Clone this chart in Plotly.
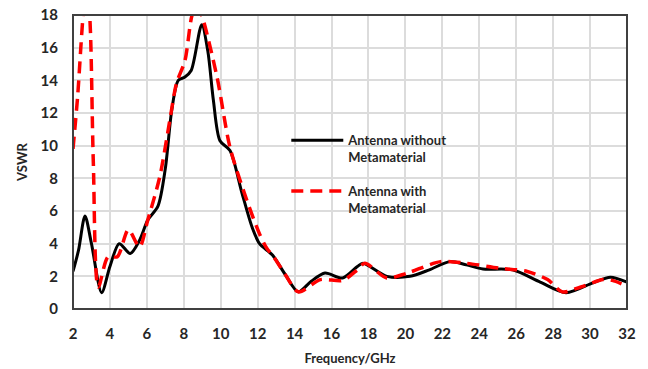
import plotly.graph_objects as go

# Antenna without metamaterial (black solid)
freq_without = [2.0, 2.3, 2.65, 3.0, 3.55, 4.0, 4.5, 5.1, 5.6, 6.05, 6.6, 7.0, 7.35, 7.7, 8.06, 8.4, 8.97, 9.3, 9.6, 9.96, 10.5, 11.15, 11.7, 12.1, 12.8, 13.5, 14.2, 14.9, 15.65, 16.6, 17.4, 17.7, 19.0, 20.25, 21.3, 22.4, 23.3, 24.2, 25.8, 27.3, 28.7, 30.15, 31.1, 32.0]
vswr_without = [2.3, 3.6, 5.7, 4.0, 1.0, 2.6, 4.0, 3.4, 4.2, 5.45, 6.3, 8.6, 12.2, 14.0, 14.2, 14.6, 17.4, 15.8, 12.8, 10.3, 9.7, 7.1, 5.0, 4.0, 3.3, 2.1, 1.05, 1.7, 2.2, 1.9, 2.6, 2.8, 2.0, 2.0, 2.4, 2.9, 2.7, 2.45, 2.4, 1.65, 1.0, 1.6, 1.95, 1.65]

# Antenna with metamaterial (red dashed)
freq_with = [2.0, 2.25, 2.55, 2.72, 2.9, 3.1, 3.37, 3.9, 4.4, 5.0, 5.6, 6.05, 6.7, 7.25, 7.6, 8.06, 8.45, 8.72, 8.97, 9.8, 10.5, 11.4, 12.1, 12.5, 12.8, 13.5, 14.2, 15.4, 16.6, 17.4, 17.8, 19.0, 20.1, 21.9, 23.3, 25.1, 26.6, 27.7, 28.5, 29.5, 30.7, 31.2, 32.0]
vswr_with = [9.8, 13.0, 18.0, 19.5, 18.0, 9.0, 1.35, 3.2, 3.2, 4.85, 3.8, 5.45, 8.1, 11.6, 13.8, 15.2, 18.0, 18.6, 18.0, 14.2, 9.9, 6.7, 4.6, 3.7, 3.3, 2.1, 1.05, 1.8, 1.75, 2.4, 2.8, 1.9, 2.2, 2.9, 2.8, 2.5, 2.3, 1.8, 1.05, 1.35, 1.8, 1.75, 1.4]

x_ticks = list(range(2, 33, 2))
y_ticks = list(range(0, 19, 2))

FONT = "Lato"
TXT = "#262626"

fig = go.Figure()
fig.add_trace(go.Scatter(
    x=freq_without, y=vswr_without, mode="lines",
    line=dict(color="black", width=3, shape="spline", smoothing=0.8),
    name="Antenna without<br>Metamaterial", legendgroup="a"))
fig.add_trace(go.Scatter(
    x=freq_with, y=vswr_with, mode="lines",
    line=dict(color="#ff0000", width=3.5, dash="12px,7px", shape="spline", smoothing=0.8),
    name="Antenna with<br>Metamaterial", legendgroup="b"))

fig.update_layout(
    width=648, height=369,
    margin=dict(l=73, r=21, t=15, b=60, autoexpand=False),
    paper_bgcolor="white", plot_bgcolor="white",
    font=dict(family=FONT, color=TXT, size=13),
    legend=dict(x=0.385, y=0.625, xanchor="left", yanchor="top",
                bgcolor="rgba(0,0,0,0)", valign="top", tracegroupgap=14,
                itemwidth=52,
                font=dict(family=FONT, size=13, color=TXT, weight="bold")),
    showlegend=True,
)
# plot-area frame
fig.add_shape(type="rect", xref="paper", yref="paper", x0=0, y0=0, x1=1, y1=1,
              line=dict(color="#404040", width=2), fillcolor="rgba(0,0,0,0)",
              layer="above")
fig.update_xaxes(
    range=[2, 32], tickvals=x_ticks, ticktext=[str(v) for v in x_ticks],
    showgrid=True, gridcolor="#dcdcdc", gridwidth=2,
    showline=False, zeroline=False, ticks="", ticklabelstandoff=14, automargin=False,
    tickfont=dict(family=FONT, size=15, color=TXT, weight="bold"),
    title=dict(text="Frequency/GHz", standoff=12,
               font=dict(family=FONT, size=13, color=TXT, weight="bold")),
)
fig.update_yaxes(
    range=[0, 18], tickvals=y_ticks, ticktext=[str(v) for v in y_ticks],
    showgrid=True, gridcolor="#dcdcdc", gridwidth=2,
    showline=False, zeroline=False, ticks="", ticklabelstandoff=14, automargin=False,
    tickfont=dict(family=FONT, size=15, color=TXT, weight="bold"),
    title=dict(text="VSWR", standoff=10,
               font=dict(family=FONT, size=13, color=TXT, weight="bold")),
)

fig.write_html("out.html")
